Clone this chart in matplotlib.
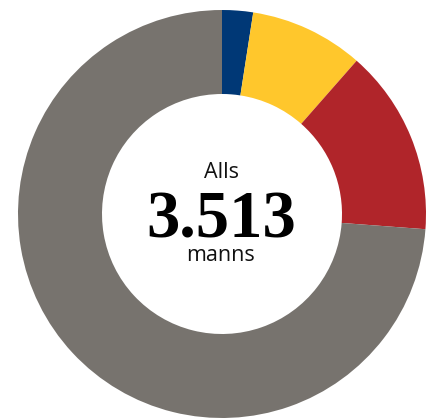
import matplotlib
matplotlib.use("Agg")
import matplotlib.pyplot as plt

values = [86, 317, 517, 2593]
colors = ["#003876", "#FFC72C", "#B0252A", "#77736E"]
top_label = "Alls"
total_label = "3.513"
bottom_label = "manns"

W, H = 437, 418
fig = plt.figure(figsize=(W / 100, H / 100), dpi=100)
ax = fig.add_axes([0, 0, 1, 1])
ax.pie(values, colors=colors, startangle=90, counterclock=False,
       center=(222, 204), radius=204,
       wedgeprops=dict(width=84, linewidth=0))
ax.set_xlim(0, W)
ax.set_ylim(0, H)
ax.set_aspect("equal")
ax.axis("off")

ax.text(221, 240, top_label, ha="center", va="baseline",
        fontsize=15.5, family=["Open Sans", "DejaVu Sans"], color="#111111")
ax.text(221, 181, total_label, ha="center", va="baseline",
        fontsize=48, fontweight="bold", family=["Liberation Serif"], color="#000000")
ax.text(221, 157, bottom_label, ha="center", va="baseline",
        fontsize=15.5, family=["Open Sans", "DejaVu Sans"], color="#111111")

fig.savefig("out.png", dpi=100)
